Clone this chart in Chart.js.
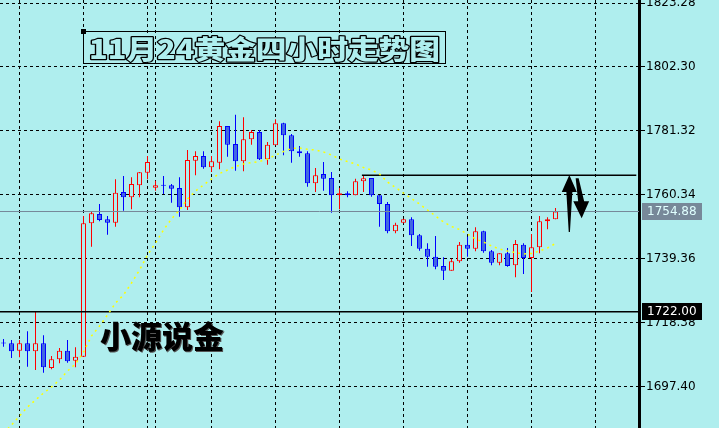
<!DOCTYPE html>
<html>
<head>
<meta charset="utf-8">
<script src="https://cdn.jsdelivr.net/npm/chart.js@4/dist/chart.umd.min.js"></script>
<style>
  html, body { margin: 0; padding: 0; background: #AFEEEE; overflow: hidden; }
  canvas { display: block; }
</style>
</head>
<body>
<canvas id="chart" width="719" height="428"></canvas>
<script>
// XAUUSD H4 candles, oldest first
const OPEN = [1711.64, 1711.64, 1709.21, 1711.64, 1709.01, 1711.64, 1703.53, 1706.39, 1709.21, 1705.93,
  1707.24, 1751.01, 1754.06, 1752.32, 1751.21, 1761.28, 1759.54, 1763.48, 1767.61, 1762.69,
  1763.35, 1763.48, 1762.59, 1756.26, 1771.55, 1773.09, 1769.39, 1770.90, 1782.94, 1777.03,
  1771.35, 1778.57, 1780.97, 1772.01, 1776.60, 1783.82, 1779.89, 1774.64, 1773.98, 1764.14,
  1767.19, 1765.88, 1760.20, 1760.85, 1760.20, 1764.79, 1765.88, 1760.20, 1757.34, 1748.39,
  1751.21, 1752.32, 1747.07, 1742.68, 1740.05, 1737.00, 1735.46, 1738.54, 1743.99, 1742.68,
  1748.39, 1741.82, 1738.08, 1741.17, 1737.23, 1743.99, 1739.63, 1743.14, 1751.67, 1752.32];
const HIGH = [1713.05, 1712.72, 1712.72, 1715.58, 1721.91, 1714.26, 1707.47, 1710.10, 1712.72, 1710.32,
  1753.41, 1754.95, 1757.34, 1753.41, 1765.45, 1766.53, 1766.11, 1767.84, 1773.09, 1764.99,
  1766.53, 1763.91, 1766.11, 1775.06, 1774.64, 1774.64, 1773.09, 1784.48, 1782.94, 1786.65,
  1785.79, 1781.62, 1781.62, 1777.69, 1785.14, 1784.02, 1780.31, 1776.38, 1774.64, 1769.16,
  1771.13, 1767.84, 1762.59, 1761.51, 1765.65, 1766.53, 1765.88, 1760.20, 1758.00, 1751.21,
  1752.52, 1752.98, 1747.50, 1744.45, 1746.84, 1739.86, 1739.40, 1744.88, 1746.61, 1749.70,
  1748.58, 1742.25, 1741.17, 1742.91, 1745.53, 1744.45, 1747.50, 1753.41, 1752.98, 1756.03];
const LOW = [1710.52, 1706.81, 1707.04, 1703.96, 1702.88, 1701.99, 1703.11, 1705.08, 1705.27, 1703.76,
  1707.24, 1743.33, 1751.67, 1747.27, 1749.90, 1755.15, 1755.60, 1759.54, 1765.45, 1761.71,
  1760.63, 1757.77, 1753.18, 1755.38, 1766.76, 1768.93, 1767.84, 1768.73, 1772.86, 1768.27,
  1768.07, 1776.80, 1771.78, 1770.24, 1776.60, 1773.32, 1770.90, 1772.86, 1763.02, 1761.28,
  1761.71, 1754.49, 1755.60, 1759.54, 1760.20, 1761.28, 1759.74, 1749.90, 1747.73, 1747.73,
  1751.01, 1743.56, 1742.02, 1736.77, 1735.92, 1732.41, 1735.46, 1738.08, 1740.05, 1741.82,
  1741.37, 1737.23, 1737.23, 1736.77, 1733.29, 1734.38, 1728.47, 1741.17, 1749.04, 1752.32];
const CLOSE = [1711.60, 1709.01, 1711.64, 1709.01, 1711.64, 1703.76, 1706.39, 1709.21, 1705.73, 1707.24,
  1751.01, 1754.29, 1752.09, 1751.21, 1761.05, 1759.54, 1763.91, 1767.75, 1771.13, 1763.48,
  1763.30, 1762.36, 1756.26, 1771.78, 1773.09, 1769.39, 1771.35, 1782.94, 1776.80, 1771.35,
  1778.57, 1780.97, 1772.01, 1776.80, 1783.82, 1779.89, 1774.64, 1773.98, 1764.14, 1766.76,
  1765.65, 1760.20, 1760.85, 1760.20, 1764.79, 1765.78, 1760.20, 1757.34, 1748.39, 1750.55,
  1752.32, 1747.07, 1742.68, 1740.05, 1736.77, 1735.46, 1738.54, 1743.99, 1742.68, 1748.39,
  1741.82, 1738.08, 1741.17, 1737.00, 1744.22, 1739.63, 1743.14, 1751.67, 1752.32, 1754.88];
// moving average of the closes
const MA = [1682.21, 1684.83, 1687.78, 1690.74, 1693.03, 1695.33, 1697.30, 1699.60, 1702.55, 1704.85,
  1708.78, 1714.03, 1717.31, 1720.92, 1724.86, 1727.49, 1731.42, 1735.69, 1740.61, 1744.55,
  1748.81, 1752.42, 1755.38, 1758.98, 1761.61, 1763.58, 1765.55, 1767.35, 1768.50, 1769.65,
  1770.47, 1770.96, 1771.29, 1772.11, 1773.42, 1774.57, 1775.55, 1775.72, 1775.29, 1775.06,
  1774.41, 1773.42, 1772.11, 1771.29, 1770.47, 1769.32, 1768.50, 1767.19, 1764.56, 1762.76,
  1760.95, 1759.15, 1757.34, 1755.38, 1753.41, 1751.44, 1749.96, 1748.98, 1747.50, 1745.86,
  1744.88, 1743.56, 1742.58, 1741.92, 1741.43, 1740.94, 1741.10, 1741.92, 1742.91, 1744.38];

const PRICE_TICKS = [1697.40, 1718.38, 1739.36, 1760.34, 1781.32, 1802.30, 1823.28];
const PERIOD_GRID = [2, 10, 18, 19, 26, 34, 42, 50, 58, 66, 74];
const LAST_PRICE = CLOSE[CLOSE.length - 1];   // 1754.88
const SUPPORT_PRICE = 1722.00;
const RESIST_PRICE = 1766.76;
const RESIST_FROM = 44.8;
const TITLE = '11月24黄金四小时走势图';
const SIGNATURE = '小源说金';

const Y_MIN = 1683.85, Y_MAX = 1824.28;
const X_MIN = -0.4375, X_MAX = 79.4375;

const BG = '#AFEEEE';
const BULL = '#FF0000', BEAR = '#0000FF', BEAR_FILL = '#4169E1';

const idx = OPEN.map((_, i) => i);
const isBull = i => CLOSE[i] >= OPEN[i];

const wicks = idx.map(i => ({ x: i, y: [LOW[i], HIGH[i]] }));
const bodies = idx.map(i => ({ x: i, y: [OPEN[i], CLOSE[i]] }));
const maLine = idx.map(i => ({ x: i, y: MA[i] }));

const hLine = (price, from, to) => [{ x: from, y: price }, { x: to, y: price }];

const noPad = s => { s.paddingTop = 0; s.paddingBottom = 0; s.paddingLeft = 0; s.paddingRight = 0; };

const backdrop = {
  id: 'backdrop',
  beforeDraw(chart) {
    const ctx = chart.ctx;
    ctx.save();
    ctx.fillStyle = BG;
    ctx.fillRect(0, 0, chart.width, chart.height);
    ctx.restore();
  }
};

const overlay = {
  id: 'overlay',
  afterDraw(chart) {
    const ctx = chart.ctx;
    const xs = chart.scales.x, ys = chart.scales.y;

    // price tags on the axis
    const tag = (value, bg, fg) => {
      const y = ys.getPixelForValue(value);
      ctx.fillStyle = bg;
      ctx.fillRect(ys.left + 3, Math.round(y) - 9, 60, 17);
      ctx.fillStyle = fg;
      ctx.font = '12px "DejaVu Sans"';
      ctx.textAlign = 'left';
      ctx.textBaseline = 'middle';
      ctx.fillText(value.toFixed(2), ys.left + 8, y);
    };
    ctx.save();
    tag(LAST_PRICE, '#778899', '#E0FFFF');
    tag(SUPPORT_PRICE, '#000000', '#FFFFFF');
    ctx.restore();

    // title label with its anchor square
    ctx.save();
    ctx.strokeStyle = '#000';
    ctx.lineWidth = 1;
    ctx.strokeRect(83.5, 31.5, 362, 32);
    ctx.fillStyle = '#000';
    ctx.fillRect(81, 29, 5, 5);
    ctx.font = '900 26px "Noto Sans CJK SC"';
    const tw = ctx.measureText(TITLE).width;
    ctx.translate(89, 49);
    ctx.scale(351 / tw, 1);
    ctx.textAlign = 'left';
    ctx.textBaseline = 'middle';
    ctx.lineJoin = 'round';
    // outlined lettering: dark rim around a hollow glyph
    ctx.lineWidth = 2.4;
    ctx.strokeStyle = '#000';
    ctx.strokeText(TITLE, 0, 0);
    ctx.fillStyle = BG;
    ctx.fillText(TITLE, 0, 0);
    ctx.restore();

    // signature
    ctx.save();
    ctx.font = '900 31px "Noto Sans CJK SC"';
    ctx.textAlign = 'left';
    ctx.textBaseline = 'middle';
    ctx.fillStyle = '#555';
    ctx.fillText(SIGNATURE, 101, 337);
    ctx.fillStyle = '#000';
    ctx.fillText(SIGNATURE, 100, 336);
    ctx.restore();

    // up / down arrows next to the last candles
    const arrow = (px, py, pts) => {
      ctx.beginPath();
      pts.forEach(([dx, dy], i) => i ? ctx.lineTo(px + dx, py + dy) : ctx.moveTo(px + dx, py + dy));
      ctx.closePath();
      ctx.fill();
    };
    ctx.save();
    ctx.fillStyle = '#000';
    const upX = xs.getPixelForValue(70.73), upY = ys.getPixelForValue(1766.86);
    arrow(upX, upY, [[0, 0], [7.5, 17], [3, 17], [0.6, 57], [-0.6, 57], [-3, 17], [-7.6, 17]]);
    const dnX = xs.getPixelForValue(72.27), dnY = ys.getPixelForValue(1752.65);
    arrow(dnX, dnY, [[0, 0], [7.5, -17], [2.5, -17], [-3, -40], [-6, -40], [-3.5, -17], [-8.4, -17]]);
    ctx.restore();
  }
};

new Chart(document.getElementById('chart'), {
  type: 'bar',
  data: {
    datasets: [
      {
        type: 'line', data: maLine, borderColor: '#FFFF00', borderWidth: 1.5,
        borderDash: [2, 4], pointRadius: 0, tension: 0, order: 0
      },
      {
        type: 'line', data: hLine(RESIST_PRICE, RESIST_FROM, 79.1), borderColor: '#000',
        borderWidth: 1.5, pointRadius: 0, order: 0
      },
      {
        type: 'line', data: hLine(SUPPORT_PRICE, X_MIN, X_MAX), borderColor: '#000',
        borderWidth: 1.5, pointRadius: 0, order: 0
      },
      {
        type: 'line', data: hLine(LAST_PRICE, X_MIN, X_MAX), borderColor: '#778899',
        borderWidth: 1, pointRadius: 0, order: 0
      },
      {
        data: bodies, order: 1, grouped: false, barThickness: 5, minBarLength: 1,
        borderWidth: 1, borderSkipped: false, inflateAmount: 0,
        backgroundColor: idx.map(i => isBull(i) ? BG : BEAR_FILL),
        borderColor: idx.map(i => isBull(i) ? BULL : BEAR)
      },
      {
        data: wicks, order: 2, grouped: false, barThickness: 1,
        borderWidth: 0, inflateAmount: 0,
        backgroundColor: idx.map(i => isBull(i) ? BULL : BEAR)
      }
    ]
  },
  options: {
    responsive: false,
    animation: false,
    events: [],
    layout: { padding: 0, autoPadding: false },
    plugins: { legend: { display: false }, tooltip: { enabled: false }, title: { display: false } },
    scales: {
      x: {
        type: 'linear', min: X_MIN, max: X_MAX, offset: false,
        afterBuildTicks: s => { s.ticks = PERIOD_GRID.map(v => ({ value: v })); },
        afterFit: s => { s.height = 0; noPad(s); },
        ticks: { display: false },
        grid: { color: '#000', lineWidth: 1, drawTicks: false, offset: false },
        border: { display: false, dash: [3, 3] }
      },
      y: {
        type: 'linear', position: 'right', min: Y_MIN, max: Y_MAX, beginAtZero: false,
        afterBuildTicks: s => { s.ticks = PRICE_TICKS.map(v => ({ value: v })); },
        afterFit: s => { s.width = 80; noPad(s); },
        ticks: {
          color: '#000', padding: 1,
          font: { family: 'DejaVu Sans', size: 12 },
          callback: v => Number(v).toFixed(2)
        },
        grid: { color: '#000', lineWidth: 1, tickLength: 6, tickColor: '#000', tickBorderDash: [] },
        border: { display: true, color: '#000', width: 3, dash: [3, 3] }
      }
    }
  },
  plugins: [backdrop, overlay]
});
</script>
</body>
</html>
